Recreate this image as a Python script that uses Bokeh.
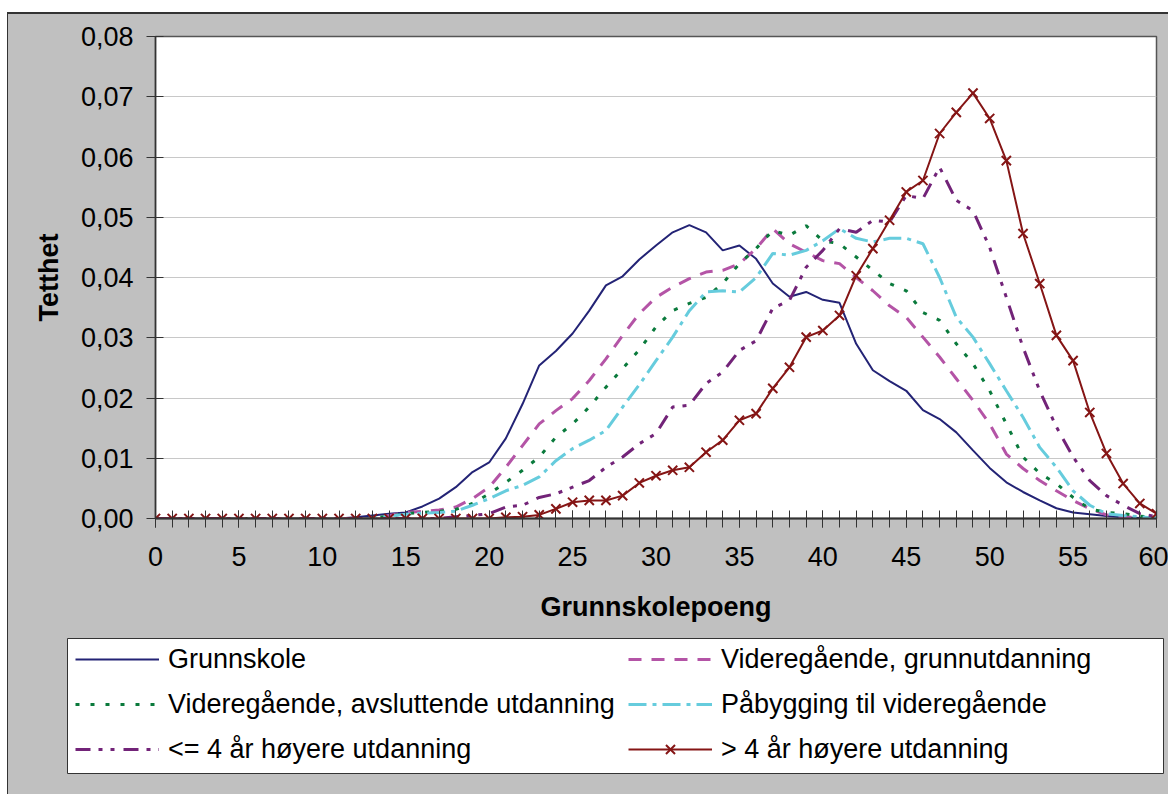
from bokeh.plotting import figure
from bokeh.layouts import column
from bokeh.models import (Range1d, SingleIntervalTicker, FixedTicker,
                          CustomJSTickFormatter, Legend, LegendItem)
from bokeh.embed import file_html
from bokeh.resources import INLINE

# ---------------- data ----------------
poeng = list(range(61))

grunnskole = [0, 0, 0, 0, 0, 0, 0, 0, 0, 0, 0, 0, 0.0002, 0.0005, 0.0008,
              0.001, 0.002, 0.0033, 0.0052, 0.0077, 0.0093, 0.0133, 0.019, 0.0254, 0.0278,
              0.0307, 0.0345, 0.0387, 0.0402, 0.043, 0.0453, 0.0475, 0.0487, 0.0475, 0.0445,
              0.0453, 0.0431, 0.039, 0.0368, 0.0376, 0.0363, 0.0358, 0.029, 0.0246, 0.0228,
              0.0212, 0.018, 0.0165, 0.0143, 0.0113, 0.0084, 0.006, 0.0044, 0.003, 0.0017,
              0.001, 0.0007, 0.0004, 0.0002, 0.0001, 0]

vgs_grunn = [0, 0, 0, 0, 0, 0, 0, 0, 0, 0, 0, 0, 0, 0, 0.0005,
             0.001, 0.0012, 0.0014, 0.0019, 0.0033, 0.0052, 0.0085, 0.0121, 0.0157, 0.0179,
             0.0199, 0.0229, 0.0265, 0.0304, 0.034, 0.0367, 0.0384, 0.0398, 0.0409, 0.0412,
             0.0423, 0.0448, 0.0481, 0.0456, 0.0442, 0.0428, 0.0423, 0.04, 0.0378, 0.0353,
             0.0334, 0.0301, 0.0268, 0.0232, 0.0196, 0.0157, 0.0107, 0.0083, 0.0063, 0.0046,
             0.003, 0.0016, 0.0006, 0.0003, 0.0001, 0]

vgs_avsl = [0, 0, 0, 0, 0, 0, 0, 0, 0, 0, 0, 0, 0, 0, 0.0004,
            0.0008, 0.001, 0.0012, 0.0015, 0.0025, 0.0041, 0.006, 0.008, 0.0102, 0.0135,
            0.0157, 0.0185, 0.0218, 0.0249, 0.028, 0.0318, 0.0345, 0.0357, 0.0367, 0.039,
            0.0423, 0.0448, 0.0478, 0.047, 0.0486, 0.0461, 0.0456, 0.0434, 0.0412, 0.039,
            0.0378, 0.0342, 0.0329, 0.029, 0.0257, 0.0212, 0.0157, 0.0102, 0.0075, 0.0058,
            0.0035, 0.0016, 0.001, 0.0008, 0.0004, 0.0001]

paabygging = [0, 0, 0, 0, 0, 0, 0, 0, 0, 0, 0, 0, 0, 0, 0.0004,
              0.0007, 0.0009, 0.001, 0.0012, 0.0022, 0.0033, 0.0046, 0.0055, 0.0069, 0.0096,
              0.0116, 0.013, 0.0146, 0.0185, 0.0222, 0.0262, 0.0301, 0.0345, 0.0376, 0.0378,
              0.0376, 0.04, 0.044, 0.0437, 0.0445, 0.0461, 0.0481, 0.0465, 0.0459, 0.0465,
              0.0465, 0.0456, 0.04, 0.0334, 0.0301, 0.0257, 0.0212, 0.0168, 0.0118, 0.0085,
              0.0046, 0.0022, 0.0008, 0.0005, 0.0003, 0]

hoy_kort = [0, 0, 0, 0, 0, 0, 0, 0, 0, 0, 0, 0, 0, 0, 0,
            0, 0, 0, 0.0003, 0.0005, 0.0008, 0.0019, 0.0022, 0.0035, 0.0041,
            0.0052, 0.0063, 0.0085, 0.0102, 0.0124, 0.0141, 0.0185, 0.0188, 0.0224, 0.0243,
            0.0279, 0.0295, 0.0349, 0.0362, 0.0417, 0.0445, 0.0481, 0.0475, 0.0495, 0.0492,
            0.0536, 0.0531, 0.0583, 0.0528, 0.0511, 0.045, 0.0367, 0.0284, 0.0212, 0.0152,
            0.0102, 0.0063, 0.0038, 0.0022, 0.0008, 0.0003]

hoy_lang = [0, 0, 0, 0, 0, 0, 0, 0, 0, 0, 0, 0, 0, 0, 0,
            0, 0, 0, 0, 0, 0, 0.0002, 0.0003, 0.0006, 0.0016,
            0.0027, 0.003, 0.003, 0.0038, 0.0059, 0.0071, 0.008, 0.0085, 0.011, 0.013,
            0.0163, 0.0174, 0.0216, 0.0251, 0.0301, 0.0312, 0.0337, 0.0403, 0.0448, 0.0495,
            0.0542, 0.0561, 0.0639, 0.0674, 0.0706, 0.0664, 0.0594, 0.0473, 0.039, 0.0304,
            0.0262, 0.0176, 0.0108, 0.0058, 0.0025, 0.0008]

labels = ["Grunnskole", "Videregående, grunnutdanning",
          "Videregående, avsluttende utdanning", "Påbygging til videregående",
          "<= 4 år høyere utdanning", "> 4 år høyere utdanning"]
y_ticks = [0, 0.01, 0.02, 0.03, 0.04, 0.05, 0.06, 0.07, 0.08]

FONT = "Liberation Sans"
FS = "27px"
GRAY = "#C0C0C0"
styles = [
    dict(line_color="#232375", line_width=2),
    dict(line_color="#B454A6", line_width=3, line_dash="13 10"),
    dict(line_color="#0A7A3C", line_width=3, line_dash="4 11"),
    dict(line_color="#66CCDD", line_width=3, line_dash="18 6 4 6"),
    dict(line_color="#722378", line_width=3, line_dash="15 8 4 8 4 9"),
    dict(line_color="#851515", line_width=2),
]
marker_style = dict(marker="x", size=13, line_color="#851515", line_width=2)

W = 1160
series = [grunnskole, vgs_grunn, vgs_avsl, paabygging, hoy_kort, hoy_lang]

# ---------------- chart ----------------
p = figure(width=W, height=623,
           x_range=Range1d(0, 60), y_range=Range1d(0, 0.08),
           output_backend="svg", toolbar_location=None,
           min_border_left=147, min_border_top=22,
           min_border_right=12, min_border_bottom=119,
           background_fill_color="white", border_fill_color=GRAY,
           outline_line_color="#555555", outline_line_width=1.5)
p.frame_align = False

p.xaxis.ticker = SingleIntervalTicker(interval=5, num_minor_ticks=5)
p.yaxis.ticker = FixedTicker(ticks=y_ticks)
p.yaxis.formatter = CustomJSTickFormatter(code="return tick.toFixed(2).replace('.', ',');")

for ax in (p.xaxis[0], p.yaxis[0]):
    ax.major_label_text_font = FONT
    ax.major_label_text_font_size = FS
    ax.major_label_text_color = "black"
    ax.axis_label_text_font = FONT
    ax.axis_label_text_font_size = FS
    ax.axis_label_text_font_style = "bold"
    ax.axis_label_text_color = "black"
    ax.major_tick_in = 8
    ax.major_tick_out = 9
    ax.major_tick_line_color = "#333333"

p.xaxis.axis_label = "Grunnskolepoeng"
p.yaxis.axis_label = "Tetthet"
p.xaxis.minor_tick_in = 8
p.xaxis.minor_tick_out = 9
p.xaxis.minor_tick_line_color = "#333333"
p.xaxis.axis_line_color = "#333333"
p.xaxis.axis_line_width = 2
p.xaxis.major_label_standoff = 19
p.xaxis.axis_label_standoff = 23
p.yaxis.axis_line_color = "#333333"
p.yaxis.axis_line_width = 1.5
p.yaxis.minor_tick_line_color = None
p.yaxis.major_label_standoff = 13
p.yaxis.axis_label_standoff = 14

p.xgrid.visible = False
p.ygrid.grid_line_color = "#C8C8C8"
p.ygrid.grid_line_width = 1

for vals, st in zip(series, styles):
    p.line(poeng, vals, **st)
p.scatter(poeng, hoy_lang, **marker_style)

# ---------------- legend panel ----------------
# its ranges keep the one-point key samples outside the visible box
q = figure(width=W, height=157, x_range=Range1d(100, 101), y_range=Range1d(100, 101),
           output_backend="svg", toolbar_location=None,
           x_axis_location=None, y_axis_location=None,
           min_border_left=59, min_border_right=5,
           min_border_top=1, min_border_bottom=21,
           background_fill_color="white", border_fill_color=GRAY,
           outline_line_color="#333333", outline_line_width=1)
q.frame_align = False
q.xgrid.visible = False
q.ygrid.visible = False

sample = [q.line(poeng[:1], vals[:1], **st) for vals, st in zip(series, styles)]
sample_marker = q.scatter(poeng[:1], hoy_lang[:1], **marker_style)

def make_legend(items, loc):
    return Legend(items=items, location=loc, orientation="vertical",
                  padding=0, spacing=13, margin=0,
                  glyph_width=84, glyph_height=32, label_height=32,
                  label_width=20, label_standoff=9,
                  label_text_font=FONT, label_text_font_size=FS,
                  label_text_color="black",
                  border_line_color=None, background_fill_alpha=0)

leg1 = make_legend([LegendItem(label=labels[0], renderers=[sample[0]]),
                    LegendItem(label=labels[2], renderers=[sample[2]]),
                    LegendItem(label=labels[4], renderers=[sample[4]])], (8, 8))
leg2 = make_legend([LegendItem(label=labels[1], renderers=[sample[1]]),
                    LegendItem(label=labels[3], renderers=[sample[3]]),
                    LegendItem(label=labels[5], renderers=[sample[5], sample_marker])], (561, 8))
q.add_layout(leg1, "center")
q.add_layout(leg2, "center")

page = column(p, q, spacing=0)
page.styles = {"margin-left": "7px", "margin-top": "12px",
               "background-color": GRAY,
               "border-top": "2px solid #333333", "border-left": "1px solid #333333"}

open("out.html", "w").write(file_html(page, INLINE))
